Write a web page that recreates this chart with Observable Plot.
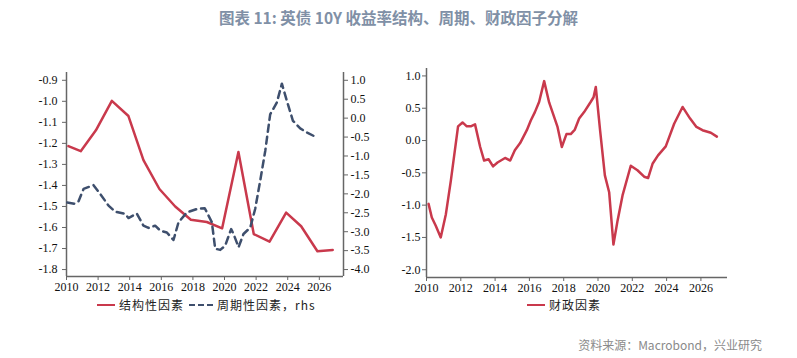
<!DOCTYPE html>
<html><head><meta charset="utf-8">
<script src="https://cdn.jsdelivr.net/npm/d3@7"></script>
<script src="https://cdn.jsdelivr.net/npm/@observablehq/plot@0.6"></script>
<style>
body{margin:0;background:#fff;}
#wrap{position:relative;width:797px;height:358px;overflow:hidden;font-family:"Noto Sans CJK SC",sans-serif;}
#title{position:absolute;top:6px;left:0;width:797px;text-align:center;font-size:15.5px;font-weight:bold;color:#8090a6;}
.leg{position:absolute;top:296px;font-size:12px;letter-spacing:1px;color:#222;display:flex;align-items:center;white-space:nowrap;}
.sw{display:inline-block;width:18px;height:0;margin-right:4px;}
#src{position:absolute;top:336px;right:35px;font-size:12px;color:#8a8a8a;}
.chart{position:absolute;top:40px;}
</style></head><body>
<div id="wrap">
<div id="title">图表 11: 英债 10Y 收益率结构、周期、财政因子分解</div>
<div id="left" class="chart" style="left:0px"></div>
<div id="right" class="chart" style="left:395px"></div>
<div class="leg" style="left:97px"><span class="sw" style="border-top:2.5px solid #c9394c"></span>结构性因素<span class="sw" style="border-top:2.5px dashed #3e4f6d;margin-left:5px;width:24px"></span>周期性因素，rhs</div>
<div class="leg" style="left:527px"><span class="sw" style="border-top:2.5px solid #c9394c"></span>财政因素</div>
<div id="src">资料来源：Macrobond，兴业研究</div>
</div>
<script>
// 结构性因素 (left axis)
const structYears = [2010.12,2010.9,2011.86,2012.87,2013.92,2014.87,2015.88,2016.88,2017.87,2018.88,2019.85,2020.88,2021.85,2022.85,2023.9,2024.85,2025.88,2026.85];
const structVals  = [-1.213,-1.237,-1.138,-0.998,-1.070,-1.280,-1.417,-1.500,-1.563,-1.574,-1.604,-1.241,-1.631,-1.667,-1.529,-1.594,-1.713,-1.707];
// 周期性因素 (rhs)
const cycYears = [2010.05,2010.5,2010.76,2011.08,2011.71,2012.13,2012.66,2013.08,2013.71,2013.92,2014.45,2014.87,2015.19,2015.61,2015.93,2016.35,2016.77,2017.09,2017.62,2018.25,2018.75,2019.2,2019.41,2019.73,2020.04,2020.42,2020.57,2020.89,2021.2,2021.63,2021.94,2022.26,2022.58,2022.89,2023.31,2023.63,2023.95,2024.33,2024.79,2025.22,2025.74];
const cycVals  = [-2.23,-2.26,-2.20,-1.87,-1.77,-2.00,-2.31,-2.47,-2.53,-2.64,-2.52,-2.84,-2.90,-2.84,-2.97,-3.02,-3.22,-2.75,-2.49,-2.40,-2.38,-2.75,-3.45,-3.48,-3.37,-2.93,-3.06,-3.41,-3.06,-2.89,-2.40,-1.65,-0.86,0.10,0.41,0.91,0.45,-0.07,-0.27,-0.38,-0.49];
// 财政因素
const fiscYears = [2010.12,2010.31,2010.54,2010.83,2011.13,2011.42,2011.84,2012.1,2012.35,2012.58,2012.83,2013.13,2013.36,2013.62,2013.88,2014.14,2014.58,2014.88,2015.15,2015.46,2015.85,2016.08,2016.32,2016.57,2016.86,2017.15,2017.64,2017.89,2018.16,2018.41,2018.65,2018.9,2019.19,2019.58,2019.74,2019.87,2020.12,2020.4,2020.65,2020.9,2021.14,2021.43,2021.91,2022.3,2022.69,2022.92,2023.18,2023.5,2023.95,2024.44,2024.93,2025.37,2025.74,2026.09,2026.58,2026.93];
const fiscVals  = [-0.98,-1.19,-1.32,-1.50,-1.14,-0.62,0.22,0.28,0.22,0.22,0.25,-0.10,-0.31,-0.29,-0.40,-0.34,-0.27,-0.31,-0.15,-0.04,0.16,0.31,0.44,0.60,0.92,0.59,0.21,-0.10,0.10,0.10,0.17,0.34,0.44,0.60,0.67,0.83,0.16,-0.54,-0.80,-1.61,-1.24,-0.85,-0.39,-0.46,-0.56,-0.58,-0.36,-0.23,-0.09,0.26,0.52,0.34,0.21,0.16,0.12,0.06];

const xTicks = [2010,2012,2014,2016,2018,2020,2022,2024,2026];
const leftTicks = [-0.9,-1.0,-1.1,-1.2,-1.3,-1.4,-1.5,-1.6,-1.7,-1.8];
const rhsTicks = [1.0,0.5,0.0,-0.5,-1.0,-1.5,-2.0,-2.5,-3.0,-3.5,-4.0];
const fiscTicks = [1.0,0.5,0.0,-0.5,-1.0,-1.5,-2.0];

const RED = "#c9394c", NAVY = "#3e4f6d", AX = "#666";
const toLeft = r => -0.9 + (r - 1.0) * 0.9 / 5;
const fromLeft = l => 1.0 + (l + 0.9) * 5 / 0.9;
const fmt1 = d => (Math.abs(d) < 1e-9 ? 0 : d).toFixed(1);

const xMin = 2010, xMax = 2027.53;
const lyMin = -1.833, lyMax = -0.863;

const structData = structYears.map((x,i)=>({x, y: structVals[i]}));
const cycData = cycYears.map((x,i)=>({x, y: toLeft(cycVals[i])}));
const fiscData = fiscYears.map((x,i)=>({x, y: fiscVals[i]}));

const common = {style:{fontFamily:"'Liberation Serif','Times New Roman',serif", fontSize:"12px", color:"#111", background:"transparent"}};

const left = Plot.plot({
  ...common,
  width:395, height:260, marginLeft:66, marginRight:52, marginTop:32, marginBottom:24,
  x:{domain:[xMin,xMax]}, y:{domain:[lyMin,lyMax]},
  marks:[
    Plot.ruleX([xMin],{stroke:AX,strokeWidth:1.5}),
    Plot.ruleX([xMax],{stroke:AX,strokeWidth:1.5}),
    Plot.ruleY([lyMin],{stroke:AX,strokeWidth:1.5}),
    Plot.axisX(xTicks,{tickFormat:d=>String(d), tickSize:4, tickPadding:2, stroke:AX, label:null, fill:"#111"}),
    Plot.axisY(leftTicks,{anchor:"left", tickFormat:fmt1, tickSize:4, tickPadding:5, stroke:AX, label:null, fill:"#111"}),
    Plot.axisY(rhsTicks.map(toLeft),{anchor:"right", tickFormat:d=>fmt1(Math.round(fromLeft(d)*10)/10), tickSize:4, tickPadding:3, stroke:AX, label:null, fill:"#111"}),
    Plot.line(structData,{x:"x",y:"y",stroke:RED,strokeWidth:2.5}),
    Plot.line(cycData,{x:"x",y:"y",stroke:NAVY,strokeWidth:2.5,strokeDasharray:"7,5"})
  ]
});
document.getElementById("left").appendChild(left);

const right = Plot.plot({
  ...common,
  width:402, height:260, marginLeft:31, marginRight:70, marginTop:28, marginBottom:23,
  x:{domain:[xMin,2027.55]}, y:{domain:[-2.12,1.115]},
  marks:[
    Plot.ruleX([xMin],{stroke:AX,strokeWidth:1.5}),
    Plot.ruleY([-2.12],{stroke:AX,strokeWidth:1.5}),
    Plot.axisX(xTicks,{tickFormat:d=>String(d), tickSize:4, tickPadding:2, stroke:AX, label:null, fill:"#111"}),
    Plot.axisY(fiscTicks,{anchor:"left", tickFormat:fmt1, tickSize:4, tickPadding:2, stroke:AX, label:null, fill:"#111"}),
    Plot.line(fiscData,{x:"x",y:"y",stroke:RED,strokeWidth:2.5})
  ]
});
document.getElementById("right").appendChild(right);
</script>
</body></html>
